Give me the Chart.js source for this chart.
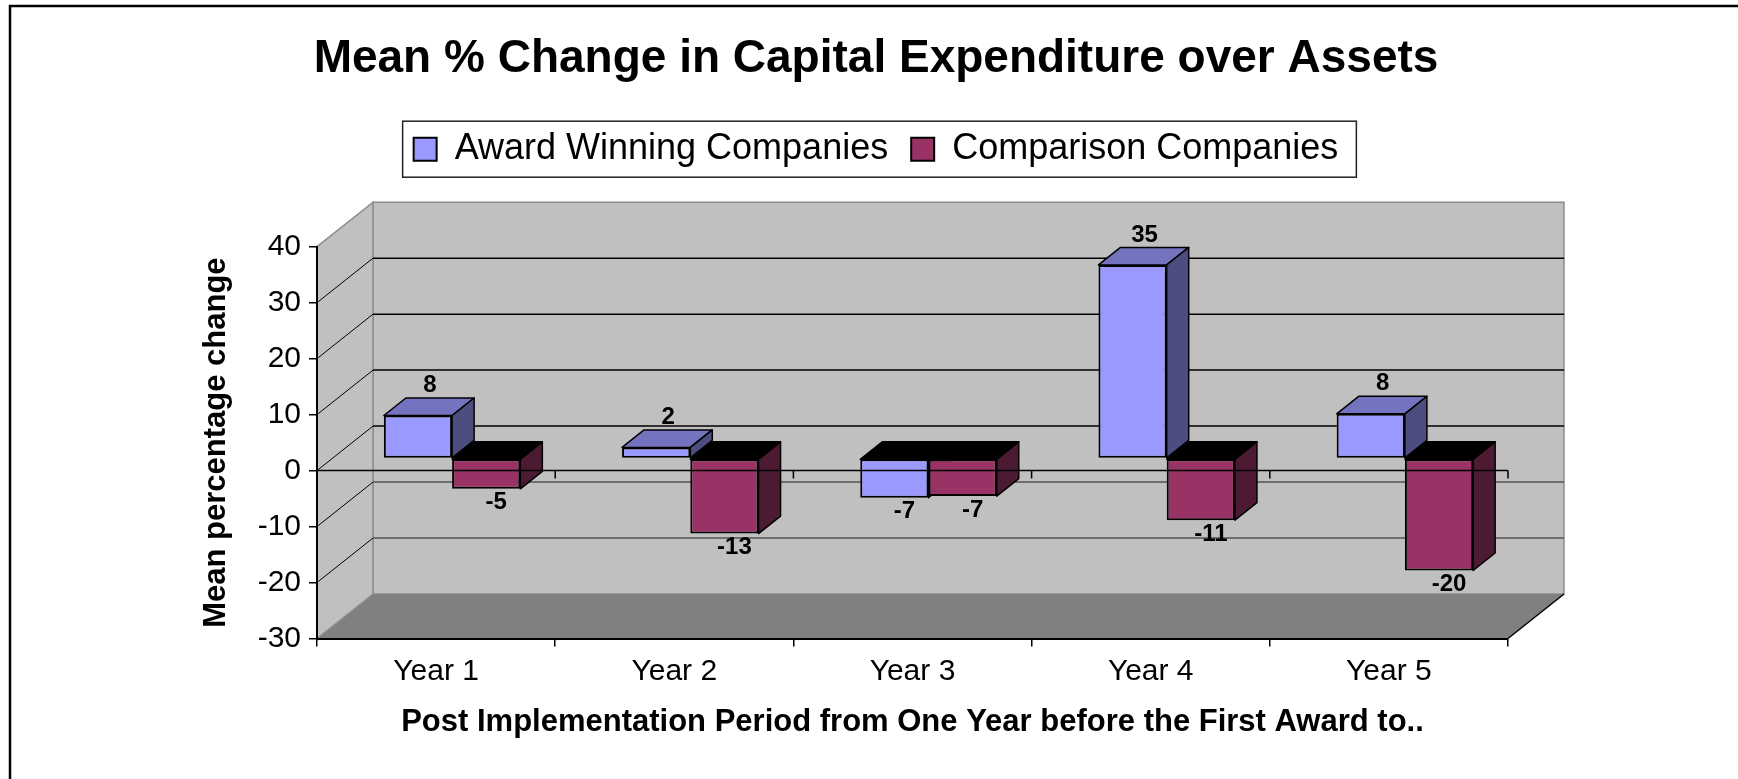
<!DOCTYPE html>
<html>
<head>
<meta charset="utf-8">
<title>Mean % Change in Capital Expenditure over Assets</title>
<script src="https://cdn.jsdelivr.net/npm/chart.js@4.4.1/dist/chart.umd.min.js"></script>
<style>
  html, body { margin: 0; padding: 0; background: #fff; }
  #wrap { width: 1738px; height: 779px; }
</style>
</head>
<body>
<div id="wrap"><canvas id="capexChart" width="1738" height="779"></canvas></div>
<script>
// values (labels show them rounded)
const categories = ['Year 1', 'Year 2', 'Year 3', 'Year 4', 'Year 5'];
const awardWinning = [7.7, 2.0, -7.0, 34.6, 8.0];
const comparison = [-5.4, -13.4, -6.7, -11.0, -20.0];
const seriesNames = ['Award Winning Companies', 'Comparison Companies'];
const yMin = -30;
const yMax = 40;
const yStep = 10;

const FONT = "'Liberation Sans', Arial, Helvetica, sans-serif";

// fake 3D: depth of the walls and of the bars (pixels)
const WALL = { dx: 56, dy: -44.5 };
const BAR = { dx: 16, dy: -12, depthX: 22, depthY: -17.5 };
const shades = [
    { front: '#9999ff', top: '#7373bf', side: '#4d4d80' },
    { front: '#993366', top: '#732650', side: '#4d1a33' },
];

function poly(ctx, pts, fill, stroke, lw) {
    ctx.beginPath();
    pts.forEach((p, i) => (i ? ctx.lineTo(p[0], p[1]) : ctx.moveTo(p[0], p[1])));
    ctx.closePath();
    if (fill) { ctx.fillStyle = fill; ctx.fill(); }
    if (stroke) { ctx.strokeStyle = stroke; ctx.lineWidth = lw; ctx.stroke(); }
}

function plotBounds(chart) {
    const xs = chart.scales.x, ys = chart.scales.y;
    return {
        L: xs.getPixelForValue(-0.5),
        R: xs.getPixelForValue(categories.length - 0.5),
        T: ys.getPixelForValue(yMax),
        B: ys.getPixelForValue(yMin),
    };
}

const excel3d = {
    id: 'excel3d',
    beforeLayout(chart) {
        // extra room between legend and plot, like the original
        const lg = chart.legend;
        if (lg && !lg._extraGap) {
            const fit = lg.fit;
            lg.fit = function () { fit.call(this); this.height += 69.5; };
            lg._extraGap = true;
        }
    },
    beforeDraw(chart) {
        const { ctx } = chart;
        const ys = chart.scales.y;
        const { L, R, T, B } = plotBounds(chart);
        const wx = WALL.dx, wy = WALL.dy;
        ctx.save();

        // outer frame (only top and left are inside the picture)
        ctx.strokeStyle = '#000';
        ctx.lineWidth = 2.5;
        ctx.beginPath();
        ctx.moveTo(10, chart.height);
        ctx.lineTo(10, 6);
        ctx.lineTo(chart.width, 6);
        ctx.stroke();

        // back wall, floor, side wall
        poly(ctx, [[L + wx, T + wy], [R + wx, T + wy], [R + wx, B + wy], [L + wx, B + wy]], '#c0c0c0', '#8c8c8c', 1.5);
        poly(ctx, [[L, B], [R, B], [R + wx, B + wy], [L + wx, B + wy]], '#808080', null, 0);
        poly(ctx, [[L, T], [L + wx, T + wy], [L + wx, B + wy], [L, B]], '#c0c0c0', '#8c8c8c', 1.5);
        ctx.strokeStyle = '#000';
        ctx.lineWidth = 1.5;
        ctx.beginPath();
        ctx.moveTo(R, B);
        ctx.lineTo(R + wx, B + wy);
        ctx.stroke();

        // gridlines on the back wall and the side wall
        for (let v = yMin + yStep; v < yMax; v += yStep) {
            const py = ys.getPixelForValue(v);
            ctx.strokeStyle = v >= 0 ? '#000' : '#6e6e6e';
            ctx.lineWidth = v >= 0 ? 1.5 : 2;
            ctx.beginPath();
            ctx.moveTo(L + wx, py + wy);
            ctx.lineTo(R + wx, py + wy);
            ctx.stroke();
            ctx.strokeStyle = '#000';
            ctx.lineWidth = 1;
            ctx.beginPath();
            ctx.moveTo(L, py);
            ctx.lineTo(L + wx, py + wy);
            ctx.stroke();
        }
        ctx.restore();
    },
    beforeDatasetsDraw(chart) {
        const { ctx } = chart;
        ctx.save();
        ctx.translate(BAR.dx, BAR.dy);
        ctx.lineJoin = 'round';
        // top and side faces first, the library then draws the fronts over them
        for (let i = 0; i < categories.length; i++) {
            chart.data.datasets.forEach((ds, d) => {
                const bar = chart.getDatasetMeta(d).data[i];
                const { x, y, base, width } = bar.getProps(['x', 'y', 'base', 'width'], true);
                const xl = x - width / 2, xr = x + width / 2;
                const top = Math.min(y, base), bot = Math.max(y, base);
                const dx = BAR.depthX, dy = BAR.depthY;
                const up = ds.data[i] >= 0;
                poly(ctx, [[xl, top], [xr, top], [xr + dx, top + dy], [xl + dx, top + dy]],
                    up ? shades[d].top : '#000', '#000', 1.5);
                poly(ctx, [[xr, top], [xr + dx, top + dy], [xr + dx, bot + dy], [xr, bot]],
                    shades[d].side, '#000', 1.5);
            });
        }
        // translation stays on while the bars are drawn
    },
    afterDatasetsDraw(chart) {
        const { ctx } = chart;
        ctx.restore();
        const xs = chart.scales.x, ys = chart.scales.y;
        const { L, R } = plotBounds(chart);

        // front zero line sits in front of the bars
        const y0 = ys.getPixelForValue(0);
        ctx.save();
        ctx.strokeStyle = '#000';
        ctx.lineWidth = 1.5;
        ctx.beginPath();
        ctx.moveTo(L, y0);
        ctx.lineTo(R, y0);
        for (let i = 1; i <= categories.length; i++) {
            const bx = xs.getPixelForValue(i - 0.5);
            ctx.moveTo(bx, y0);
            ctx.lineTo(bx, y0 + 8);
        }
        ctx.stroke();

        // value labels
        ctx.font = `bold 24px ${FONT}`;
        ctx.fillStyle = '#000';
        ctx.textAlign = 'center';
        ctx.textBaseline = 'middle';
        chart.data.datasets.forEach((ds, d) => {
            chart.getDatasetMeta(d).data.forEach((bar, i) => {
                const v = ds.data[i];
                const { x, y } = bar.getProps(['x', 'y'], true);
                const lx = x + BAR.dx + (v >= 0 ? 12 : 10);
                const ly = y + BAR.dy + (v >= 0 ? -30 : 14);
                ctx.fillText(String(Math.round(v)), lx, ly);
            });
        });
        ctx.restore();
    },
    afterDraw(chart) {
        // box round the legend
        const boxes = chart.legend && chart.legend.legendHitBoxes;
        if (!boxes || !boxes.length) return;
        const { ctx } = chart;
        const first = boxes[0], last = boxes[boxes.length - 1];
        const mid = first.top + first.height / 2;
        const left = first.left - 11;
        const right = last.left + last.width + 18;
        ctx.save();
        ctx.strokeStyle = '#222';
        ctx.lineWidth = 1.5;
        ctx.strokeRect(left, mid - 28, right - left, 56);
        ctx.restore();
    },
};

Chart.defaults.font.family = FONT;
Chart.defaults.color = '#000';

const ctx = document.getElementById('capexChart').getContext('2d');
const capexChart = new Chart(ctx, {
    type: 'bar',
    data: {
        labels: categories,
        datasets: [
            {
                label: seriesNames[0],
                data: awardWinning,
                backgroundColor: shades[0].front,
                borderColor: '#000',
                borderWidth: 2,
                borderSkipped: false,
                clip: false,
            },
            {
                label: seriesNames[1],
                data: comparison,
                backgroundColor: shades[1].front,
                borderColor: '#000',
                borderWidth: 2,
                borderSkipped: false,
                clip: false,
            },
        ],
    },
    options: {
        responsive: false,
        animation: false,
        devicePixelRatio: 1,
        layout: { padding: { left: 14, right: 0, top: 0, bottom: 33.8 } },
        datasets: {
            bar: { categoryPercentage: 0.573, barPercentage: 1 },
        },
        plugins: {
            title: {
                display: true,
                text: 'Mean % Change in Capital Expenditure over Assets',
                font: { size: 46, weight: 'bold' },
                color: '#000',
                padding: { top: 31.8, bottom: 21.2 },
            },
            legend: {
                display: true,
                position: 'top',
                labels: {
                    boxWidth: 23,
                    boxHeight: 23,
                    padding: 23,
                    font: { size: 36 },
                    color: '#000',
                },
            },
            tooltip: { enabled: false },
        },
        scales: {
            x: {
                grid: { drawOnChartArea: false, tickLength: 8, color: '#000', lineWidth: 1.5 },
                border: { color: '#000', width: 2 },
                ticks: { font: { size: 30 }, padding: 6.8, color: '#000' },
                title: {
                    display: true,
                    text: 'Post Implementation Period from One Year before the First Award to..',
                    font: { size: 31, weight: 'bold' },
                    color: '#000',
                    padding: { top: 4, bottom: 4 },
                },
                afterFit(scale) { scale.height = 106.7; },
            },
            y: {
                min: yMin,
                max: yMax,
                grid: { drawOnChartArea: false, tickLength: 8, color: '#000', lineWidth: 1.5 },
                border: { color: '#000', width: 2 },
                ticks: { stepSize: yStep, font: { size: 30 }, padding: 8, color: '#000' },
                title: {
                    display: true,
                    text: 'Mean percentage change',
                    font: { size: 31, weight: 'bold' },
                    color: '#000',
                    padding: { top: 184, bottom: 0 },
                },
                afterFit(scale) { scale.width = 303; },
            },
            // empty axis on the right, only to reserve the space for the 3D depth
            yRight: {
                position: 'right',
                display: true,
                grid: { display: false },
                border: { display: false },
                ticks: { display: false },
                afterFit(scale) { scale.width = 230; },
            },
        },
    },
    plugins: [excel3d],
});
</script>
</body>
</html>
